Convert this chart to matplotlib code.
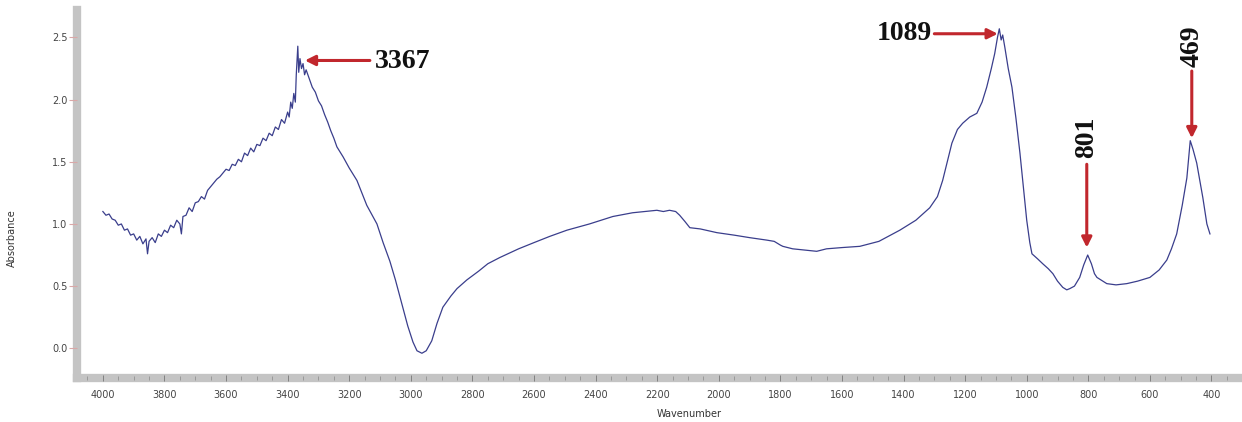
import numpy as np
import matplotlib
matplotlib.use('Agg')
import matplotlib.pyplot as plt
from matplotlib.ticker import MultipleLocator

# Espectro FTIR (numero de onda, absorbancia)
wavenumber = [
    4000, 3990, 3980, 3970, 3960, 3950, 3940, 3930, 3920, 3910, 3900, 3890, 3880, 3870,
    3860, 3855, 3850, 3840, 3830, 3820, 3810, 3800, 3790, 3780, 3770, 3760, 3750, 3745,
    3740, 3730, 3720, 3710, 3700, 3690, 3680, 3670, 3660, 3650, 3640, 3630, 3620, 3610,
    3600, 3590, 3580, 3570, 3560, 3550, 3540, 3530, 3520, 3510, 3500, 3490, 3480, 3470,
    3460, 3450, 3440, 3430, 3420, 3410, 3400, 3395, 3390, 3385, 3380, 3375, 3372, 3367,
    3364, 3360, 3355, 3350, 3345, 3340, 3330, 3320, 3310, 3300, 3290, 3280, 3270, 3260,
    3250, 3240, 3220, 3200, 3175, 3143, 3110, 3090, 3068, 3050, 3026, 3010, 2993, 2980,
    2964, 2950, 2932, 2915, 2896, 2870, 2850, 2818, 2780, 2750, 2711, 2650, 2600, 2549,
    2493, 2420, 2344, 2280, 2240, 2201, 2180, 2160, 2140, 2127, 2110, 2094, 2060, 2006,
    1950, 1900, 1844, 1820, 1800, 1792, 1760, 1720, 1682, 1650, 1600, 1542, 1480, 1412,
    1360, 1315, 1290, 1273, 1258, 1243, 1225, 1208, 1185, 1162, 1145, 1130, 1115, 1104,
    1095, 1089, 1083, 1078, 1071, 1060, 1048, 1035, 1022, 1010, 1000, 990, 983, 965,
    948, 930, 915, 900, 883, 870, 860, 845, 828, 815, 802, 790, 780, 772,
    740, 710, 675, 640, 600, 570, 545, 530, 513, 495, 480, 469, 460, 448,
    438, 428, 420, 415, 405,
]
absorbance = [
    1.10, 1.07, 1.08, 1.04, 1.03, 0.99, 1.00, 0.95, 0.96, 0.91, 0.92, 0.87, 0.90, 0.84,
    0.88, 0.76, 0.86, 0.89, 0.85, 0.92, 0.90, 0.95, 0.93, 0.99, 0.97, 1.03, 1.00, 0.92,
    1.06, 1.07, 1.13, 1.10, 1.17, 1.18, 1.22, 1.20, 1.27, 1.30, 1.33, 1.36, 1.38, 1.41,
    1.44, 1.43, 1.48, 1.47, 1.52, 1.50, 1.57, 1.55, 1.61, 1.58, 1.64, 1.63, 1.69, 1.67,
    1.73, 1.71, 1.78, 1.76, 1.84, 1.81, 1.90, 1.86, 1.98, 1.93, 2.05, 1.98, 2.20, 2.43,
    2.22, 2.33, 2.25, 2.29, 2.20, 2.24, 2.17, 2.10, 2.06, 1.99, 1.95, 1.88, 1.82, 1.75,
    1.69, 1.62, 1.54, 1.45, 1.35, 1.15, 1.00, 0.85, 0.70, 0.55, 0.33, 0.18, 0.05, -0.02,
    -0.04, -0.02, 0.06, 0.20, 0.33, 0.42, 0.48, 0.55, 0.62, 0.68, 0.73, 0.80, 0.85, 0.90,
    0.95, 1.00, 1.06, 1.09, 1.10, 1.11, 1.10, 1.11, 1.10, 1.07, 1.02, 0.97, 0.96, 0.93,
    0.91, 0.89, 0.87, 0.86, 0.83, 0.82, 0.80, 0.79, 0.78, 0.80, 0.81, 0.82, 0.86, 0.95,
    1.03, 1.13, 1.22, 1.35, 1.50, 1.65, 1.76, 1.81, 1.86, 1.89, 1.98, 2.10, 2.25, 2.37,
    2.50, 2.57, 2.48, 2.52, 2.42, 2.25, 2.10, 1.85, 1.57, 1.28, 1.03, 0.85, 0.76, 0.72,
    0.68, 0.64, 0.60, 0.54, 0.49, 0.47, 0.48, 0.50, 0.57, 0.67, 0.75, 0.68, 0.60, 0.57,
    0.52, 0.51, 0.52, 0.54, 0.57, 0.63, 0.71, 0.80, 0.92, 1.15, 1.37, 1.67, 1.60, 1.49,
    1.35, 1.21, 1.08, 1.00, 0.92,
]

# Picos marcados
peak_labels = ['3367', '1089', '801', '469']

fig = plt.figure(figsize=(12.42, 4.22), dpi=100)
ax = fig.add_axes([0.062, 0.104, 0.936, 0.872])

ax.plot(wavenumber, absorbance, color='#3a3e8c', lw=0.9)

ax.set_xlim(4084, 309)
ax.set_ylim(-0.24, 2.72)

# Ejes grises gruesos como en el programa del espectrometro
for s in ['top', 'right']:
    ax.spines[s].set_visible(False)
for s in ['left', 'bottom']:
    ax.spines[s].set_color('#c4c4c4')
    ax.spines[s].set_linewidth(6)
    ax.spines[s].set_zorder(1)
ax.xaxis.set_zorder(3)

ax.xaxis.set_major_locator(MultipleLocator(200))
ax.xaxis.set_minor_locator(MultipleLocator(50))
ax.yaxis.set_major_locator(MultipleLocator(0.5))
ax.yaxis.set_major_formatter(matplotlib.ticker.FormatStrFormatter('%.1f'))

ax.tick_params(axis='x', which='major', direction='inout', length=5, width=0.6,
               color='#777777', labelsize=7, labelcolor='#444444', pad=6)
ax.tick_params(axis='x', which='minor', direction='inout', length=3, width=0.5,
               color='#888888')
ax.tick_params(axis='y', which='major', direction='out', length=6, width=0.8,
               color='#d9a8a8', labelsize=7, labelcolor='#444444', pad=1)

ax.set_xlabel('Wavenumber', fontsize=7, color='#333333')
ax.xaxis.set_label_coords(0.527, -0.085)
ax.set_ylabel('Absorbance', fontsize=7, color='#333333')
ax.yaxis.set_label_coords(-0.052, 0.38)

red = '#c1272d'
fnt = dict(family='Liberation Serif', weight='bold', size=20, color='#111111')
arrow = dict(arrowstyle='-|>', color=red, lw=2.2, mutation_scale=15,
             shrinkA=0, shrinkB=0)

# 3367
ax.annotate('', xy=(3344, 2.315), xytext=(3133, 2.315), arrowprops=arrow)
ax.text(3117, 2.31, peak_labels[0], ha='left', va='center', **fnt)
# 1089
ax.annotate('', xy=(1094, 2.53), xytext=(1300, 2.53), arrowprops=arrow)
ax.text(1308, 2.53, peak_labels[1], ha='right', va='center', **fnt)
# 801
ax.annotate('', xy=(805, 0.81), xytext=(805, 1.48), arrowprops=arrow)
ax.text(805, 1.53, peak_labels[2], ha='center', va='bottom', rotation=90, **fnt)
# 469
ax.annotate('', xy=(464, 1.69), xytext=(464, 2.23), arrowprops=arrow)
ax.text(464, 2.26, peak_labels[3], ha='center', va='bottom', rotation=90, **fnt)

fig.savefig('out.png', dpi=100)
